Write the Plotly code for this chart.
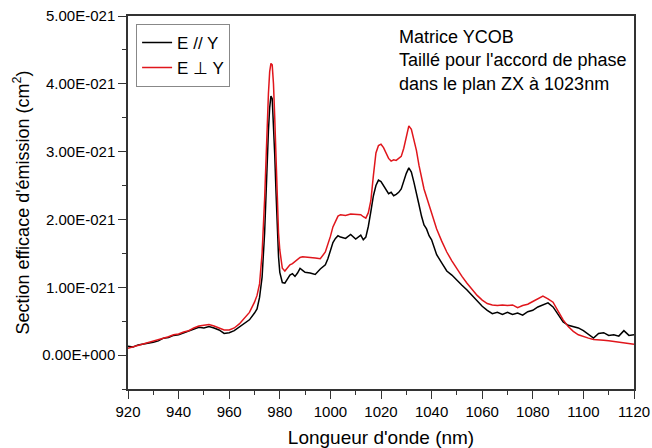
import plotly.graph_objects as go

# wavelength (nm)
wavelength = [920, 922, 924, 926, 928, 930, 932, 934, 936, 938, 940, 942, 944, 946, 948, 950,
              952, 954, 956, 958, 960, 962, 964, 966, 968, 970, 971, 972, 973, 974, 974.5, 975,
              975.5, 976, 976.5, 977, 977.5, 978, 978.5, 979, 979.5, 980, 981, 982, 983, 984,
              985, 986, 987, 988, 989, 990, 992, 994, 996, 998, 999, 1000, 1001, 1002, 1003,
              1004, 1006, 1008, 1010, 1012, 1013, 1014, 1015, 1016, 1017, 1018, 1019, 1020,
              1021, 1022, 1023, 1024, 1025, 1026, 1027, 1028, 1029, 1030, 1031, 1032, 1033,
              1034, 1035, 1036, 1037, 1038, 1039, 1040, 1042, 1044, 1046, 1048, 1050, 1052,
              1054, 1056, 1058, 1060, 1062, 1064, 1066, 1068, 1070, 1072, 1074, 1076, 1078,
              1080, 1082, 1084, 1086, 1088, 1090, 1092, 1094, 1096, 1098, 1100, 1102, 1104,
              1106, 1108, 1110, 1112, 1114, 1116, 1118, 1120]

# cross sections, in units of 1E-021 cm2
e_par_y = [0.13, 0.12, 0.15, 0.16, 0.17, 0.19, 0.21, 0.25, 0.26, 0.29, 0.30, 0.33, 0.35, 0.38, 0.41, 0.40,
           0.42, 0.40, 0.37, 0.32, 0.33, 0.36, 0.41, 0.46, 0.52, 0.62, 0.68, 0.85, 1.15, 1.80, 2.35, 2.85,
           3.30, 3.65, 3.82, 3.78, 3.45, 2.95, 2.40, 1.85, 1.45, 1.22, 1.07, 1.06, 1.12, 1.18,
           1.20, 1.16, 1.21, 1.28, 1.25, 1.22, 1.21, 1.19, 1.27, 1.33, 1.42, 1.55, 1.66, 1.72, 1.76,
           1.74, 1.72, 1.78, 1.71, 1.77, 1.70, 1.74, 1.90, 2.12, 2.35, 2.50, 2.58, 2.56,
           2.50, 2.46, 2.38, 2.40, 2.35, 2.37, 2.40, 2.45, 2.58, 2.68, 2.76, 2.70, 2.55,
           2.40, 2.22, 2.05, 1.92, 1.86, 1.76, 1.70, 1.48, 1.36, 1.24, 1.18, 1.10, 1.03,
           0.96, 0.88, 0.80, 0.72, 0.66, 0.61, 0.63, 0.60, 0.63, 0.60, 0.62, 0.59, 0.64,
           0.66, 0.71, 0.74, 0.77, 0.71, 0.60, 0.49, 0.44, 0.42, 0.40, 0.36, 0.31, 0.25,
           0.32, 0.33, 0.29, 0.30, 0.28, 0.36, 0.29, 0.30]

e_perp_y = [0.10, 0.12, 0.14, 0.16, 0.18, 0.20, 0.22, 0.25, 0.27, 0.30, 0.31, 0.34, 0.36, 0.40, 0.43, 0.44,
            0.45, 0.43, 0.40, 0.37, 0.37, 0.40, 0.46, 0.55, 0.63, 0.78, 0.88, 1.05, 1.50, 2.30, 2.90, 3.40,
            3.85, 4.18, 4.30, 4.28, 4.00, 3.50, 2.95, 2.30, 1.80, 1.55, 1.28, 1.24, 1.28, 1.33,
            1.35, 1.38, 1.41, 1.44, 1.45, 1.45, 1.44, 1.43, 1.42, 1.52, 1.62, 1.75, 1.89, 1.98, 2.05,
            2.07, 2.06, 2.08, 2.08, 2.07, 2.04, 2.02, 2.10, 2.28, 2.65, 2.98, 3.09, 3.11,
            3.06, 2.97, 2.90, 2.86, 2.88, 2.87, 2.90, 2.93, 3.05, 3.22, 3.38, 3.33, 3.18,
            3.02, 2.80, 2.62, 2.45, 2.33, 2.21, 2.08, 1.86, 1.68, 1.52, 1.39, 1.27, 1.16,
            1.06, 0.97, 0.88, 0.81, 0.76, 0.74, 0.73, 0.74, 0.73, 0.74, 0.70, 0.73, 0.75,
            0.79, 0.83, 0.87, 0.83, 0.78, 0.65, 0.52, 0.42, 0.35, 0.30, 0.27, 0.25, 0.23,
            0.23, 0.22, 0.21, 0.20, 0.20, 0.19, 0.18, 0.16]

y_ticks = [0, 1, 2, 3, 4, 5]
y_ticktext = ["0.00E+000", "1.00E-021", "2.00E-021", "3.00E-021", "4.00E-021", "5.00E-021"]

font = "Liberation Sans, Arial, sans-serif"

fig = go.Figure()
fig.add_trace(go.Scatter(x=wavelength, y=e_par_y, mode="lines", name="E // Y",
                         line=dict(color="black", width=1.5)))
fig.add_trace(go.Scatter(x=wavelength, y=e_perp_y, mode="lines", name="E \u22a5 Y",
                         line=dict(color="#e0161c", width=1.5)))

fig.add_annotation(text="Matrice YCOB<br>Taillé pour l'accord de phase<br>dans le plan ZX à 1023nm",
                   xref="paper", yref="paper", x=0.532, y=0.975, xanchor="left", yanchor="top",
                   align="left", showarrow=False, font=dict(size=18, color="black", family=font))

fig.update_layout(
    width=652, height=448,
    margin=dict(l=128, r=18, t=16, b=59),
    paper_bgcolor="white", plot_bgcolor="white",
    font=dict(family=font, size=15, color="black"),
    showlegend=True,
    legend=dict(x=0.016, y=0.979, xanchor="left", yanchor="top",
                bordercolor="#888888", borderwidth=1, bgcolor="white",
                font=dict(size=17), tracegroupgap=0),
)
fig.update_xaxes(range=[920, 1120], dtick=20, tick0=920, automargin=False,
                 showline=True, linecolor="#333333", linewidth=1.5, mirror=True,
                 ticks="outside", ticklen=8, tickcolor="#333333",
                 minor=dict(dtick=10, ticklen=4, ticks="outside", tickcolor="#333333"),
                 showgrid=False, zeroline=False,
                 title=dict(text="Longueur d'onde (nm)", font=dict(size=19), standoff=12))
fig.update_yaxes(range=[-0.5, 5], tickmode="array", tickvals=y_ticks, ticktext=y_ticktext,
                 automargin=False,
                 showline=True, linecolor="#333333", linewidth=1.5, mirror=True,
                 ticks="outside", ticklen=8, tickcolor="#333333",
                 minor=dict(tickmode="linear", tick0=0, dtick=0.5, ticklen=4, ticks="outside",
                            tickcolor="#333333"),
                 showgrid=False, zeroline=False,
                 title=dict(text="Section efficace d'émission (cm<sup>2</sup>)", font=dict(size=18),
                            standoff=8))

# page has a default 8px body margin; drop it so the figure fills the window
fig.write_html("out.html", config={"displayModeBar": False},
               post_script="document.body.style.margin='0';")
